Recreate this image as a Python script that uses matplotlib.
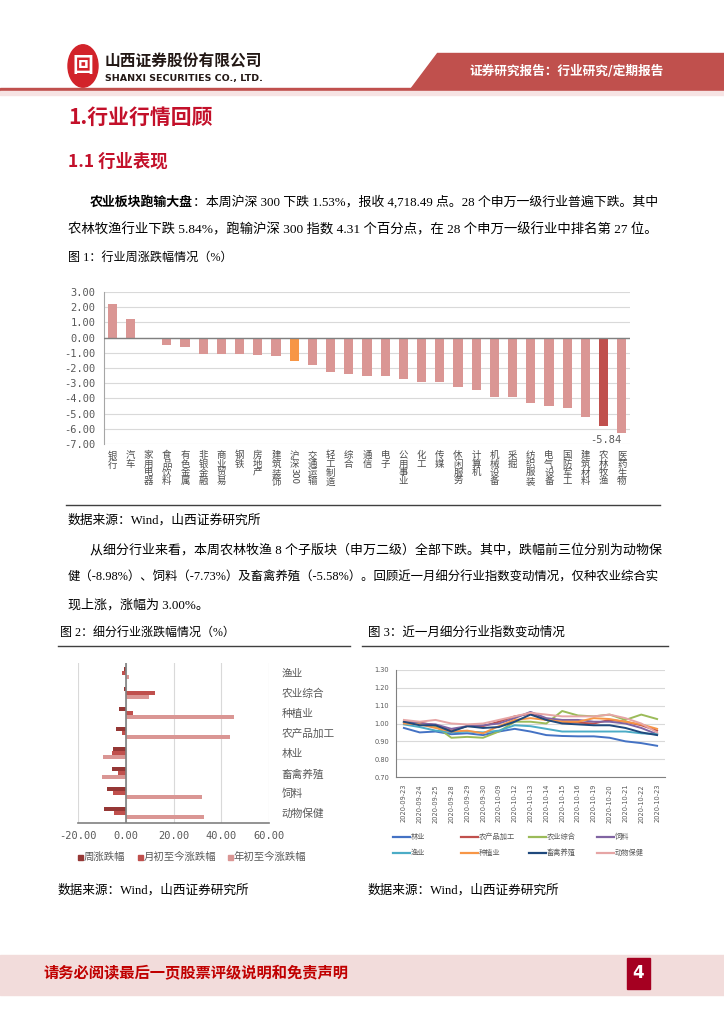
import matplotlib
matplotlib.use('Agg')
import matplotlib.pyplot as plt
from matplotlib.patches import Polygon, Rectangle, Circle
from matplotlib.lines import Line2D
import numpy as np

plt.rcParams['font.family'] = ['Noto Sans CJK SC', 'DejaVu Sans']
plt.rcParams['axes.unicode_minus'] = False

W, H = 724, 1024
RED = '#C3102A'
GRAY_TXT = '#595959'
GRID = '#D9D9D9'
BODY = ['Liberation Serif', 'Noto Sans CJK SC']
MONO = 'DejaVu Sans Mono'

# ---- 图1 数据 ----
industries = ['银行', '汽车', '家用电器', '食品饮料', '有色金属', '非银金融', '商业贸易', '钢铁',
              '房地产', '建筑装饰', '沪深300', '交通运输', '轻工制造', '综合', '通信', '电子',
              '公用事业', '化工', '传媒', '休闲服务', '计算机', '机械设备', '采掘', '纺织服装',
              '电气设备', '国防军工', '建筑材料', '农林牧渔', '医药生物']
industry_chg = [2.20, 1.24, -0.12, -0.46, -0.62, -1.06, -1.08, -1.10, -1.15, -1.21, -1.53, -1.78,
                -2.25, -2.42, -2.52, -2.54, -2.75, -2.92, -2.95, -3.23, -3.46, -3.88, -3.91, -4.32,
                -4.50, -4.63, -5.21, -5.84, -6.26]
y1_ticks = [3, 2, 1, 0, -1, -2, -3, -4, -5, -6, -7]

# ---- 图2 数据 ----
sub_names = ['渔业', '农业综合', '种植业', '农产品加工', '林业', '畜禽养殖', '饲料', '动物保健']
week_chg = [-0.8, -0.8, -2.9, -4.2, -5.45, -5.58, -7.73, -8.98]
month_chg = [-1.4, 12.2, 3.1, -1.7, -5.9, -3.4, -5.4, -5.1]
ytd_chg = [1.2, 9.9, 45.5, 43.8, -9.4, -10.1, 32.1, 32.9]
x2_ticks = [-20, 0, 20, 40, 60]

# ---- 图3 数据 ----
dates = ['2020-09-23', '2020-09-24', '2020-09-25', '2020-09-28', '2020-09-29', '2020-09-30',
         '2020-10-09', '2020-10-12', '2020-10-13', '2020-10-14', '2020-10-15', '2020-10-16',
         '2020-10-19', '2020-10-20', '2020-10-21', '2020-10-22', '2020-10-23']
linye = [0.975, 0.950, 0.955, 0.940, 0.945, 0.935, 0.955, 0.970, 0.955, 0.935, 0.930, 0.928,
         0.928, 0.920, 0.900, 0.890, 0.875]
nongchanpin = [1.010, 1.005, 0.990, 0.960, 0.985, 0.985, 1.010, 1.040, 1.055, 1.020, 1.010,
               1.005, 1.000, 1.020, 1.010, 0.990, 0.960]
nongyezonghe = [1.010, 1.000, 0.985, 0.920, 0.925, 0.920, 0.955, 1.010, 1.010, 1.000, 1.070,
                1.045, 1.040, 1.050, 1.020, 1.050, 1.025]
siliao = [1.010, 1.000, 0.995, 0.970, 0.985, 0.990, 1.000, 1.030, 1.065, 1.030, 1.020, 1.020,
          1.010, 1.010, 1.000, 0.975, 0.940]
yuye = [0.995, 0.980, 0.960, 0.950, 0.955, 0.950, 0.960, 0.990, 0.985, 0.970, 0.955, 0.955,
        0.955, 0.955, 0.955, 0.945, 0.940]
zhongzhi = [1.000, 0.995, 0.975, 0.955, 0.960, 0.945, 0.985, 1.020, 1.030, 1.020, 1.010, 1.010,
            1.030, 1.025, 1.010, 0.995, 0.970]
xuqin = [1.010, 0.990, 0.990, 0.955, 0.985, 0.975, 0.980, 1.010, 1.050, 1.020, 1.000, 0.995,
         0.990, 0.990, 0.975, 0.950, 0.935]
dongbao = [1.020, 1.010, 1.020, 1.000, 0.995, 1.000, 1.020, 1.040, 1.060, 1.050, 1.040, 1.040,
           1.040, 1.050, 1.030, 1.000, 0.950]
series3 = [('林业', linye, '#4472C4'), ('农产品加工', nongchanpin, '#C0504D'),
           ('农业综合', nongyezonghe, '#9BBB59'), ('饲料', siliao, '#8064A2'),
           ('渔业', yuye, '#4BACC6'), ('种植业', zhongzhi, '#F79646'),
           ('畜禽养殖', xuqin, '#1F497D'), ('动物保健', dongbao, '#E6A5A5')]

fig = plt.figure(figsize=(W / 100, H / 100), dpi=100)
renderer = fig.canvas.get_renderer()


def fxy(x, y):
    return x / W, 1 - y / H


def add_ax(l, t, r, b):
    return fig.add_axes([l / W, 1 - b / H, (r - l) / W, (b - t) / H])


def hline(x0, x1, y, color='#404040', lw=1.0):
    fig.add_artist(Line2D([x0 / W, x1 / W], [1 - y / H, 1 - y / H], color=color, lw=lw,
                          transform=fig.transFigure))


def txt(x, y, s, size, right=None, **kw):
    kw.setdefault('va', 'center')
    t = fig.text(x / W, 1 - y / H, s, fontsize=size, ha='left', **kw)
    if right is not None:
        w = t.get_window_extent(renderer).width
        t.set_fontsize(size * (right - x) / w)
    return t


# ---- 页眉 ----
fig.add_artist(Circle(fxy(83, 66), 15 / W, color='#D2232A', transform=fig.transFigure))
txt(72, 66, '回', 15, color='white', weight='bold')
txt(105, 62, '山西证券股份有限公司', 11, right=262, color='#231815', weight='bold')
txt(105, 78, 'SHANXI SECURITIES CO., LTD.', 7.5, right=262, color='#231815', weight='bold',
    family='DejaVu Sans')
band = Polygon([fxy(437, 53), fxy(724, 53), fxy(724, 89), fxy(410, 89)], closed=True,
               color='#C0504D', transform=fig.transFigure)
fig.add_artist(band)
txt(470, 71, '证券研究报告：行业研究/定期报告', 10, right=665, color='white', weight='bold')
fig.add_artist(Rectangle(fxy(0, 91), 1, 3 / H, color='#C0504D', transform=fig.transFigure))
fig.add_artist(Rectangle(fxy(0, 95), 1, 4 / H, color='#F6E3E3', transform=fig.transFigure))

# ---- 标题与正文 ----
txt(68, 117, '1.行业行情回顾', 15, color=RED, weight='bold')
txt(68, 162, '1.1 行业表现', 12.5, color=RED, weight='bold')

bold_part = '农业板块跑输大盘'
rest_part = '：本周沪深 300 下跌 1.53%，报收 4,718.49 点。28 个申万一级行业普遍下跌。其中'
base = 9.4
tb = fig.text(90 / W, 1 - 202 / H, bold_part, fontsize=base, weight='bold', family=BODY,
              va='center', color='black')
tr = fig.text(0, 1 - 202 / H, rest_part, fontsize=base, family=BODY, va='center', color='black')
w_all = tb.get_window_extent(renderer).width + tr.get_window_extent(renderer).width
scale = (658 - 90) / w_all
tb.set_fontsize(base * scale)
tr.set_fontsize(base * scale)
tr.set_x((90 + tb.get_window_extent(renderer).width) / W)
txt(68, 230, '农林牧渔行业下跌 5.84%，跑输沪深 300 指数 4.31 个百分点，在 28 个申万一级行业中排名第 27 位。',
    base, right=655, family=BODY)
txt(68, 258, '图 1：行业周涨跌幅情况（%）', 9, right=232, family=BODY)

# ---- 图1 ----
ax1 = add_ax(104, 292, 630, 444)
x1 = np.arange(len(industries))
colors1 = ['#DA9694'] * len(industries)
colors1[industries.index('沪深300')] = '#F79646'
colors1[industries.index('农林牧渔')] = '#C0504D'
ax1.bar(x1, industry_chg, width=0.5, color=colors1, zorder=3)
ax1.set_xlim(-0.45, len(industries) - 0.55)
ax1.set_ylim(-7, 3)
ax1.set_yticks(y1_ticks)
ax1.set_yticklabels([f'{v:.2f}' for v in y1_ticks], family=MONO, fontsize=7.5, color=GRAY_TXT)
ax1.yaxis.grid(True, color=GRID, lw=0.8, zorder=0)
ax1.axhline(0, color='#808080', lw=1.0, zorder=4)
for s in ['top', 'right', 'bottom']:
    ax1.spines[s].set_visible(False)
ax1.spines['left'].set_color('#A6A6A6')
ax1.tick_params(axis='y', length=0, pad=6)
labels1 = ['\n'.join(n) if n != '沪深300' else '沪\n深' for n in industries]
ax1.set_xticks(x1)
ax1.set_xticklabels(labels1, fontsize=6.8, color='#4D4D4D', linespacing=0.95, va='top')
ax1.tick_params(axis='x', length=0, pad=5)
ax1.annotate('300', xy=(industries.index('沪深300'), 0), xycoords=('data', 'axes fraction'),
             xytext=(0, -17.5), textcoords='offset points', rotation=-90, ha='center', va='top',
             fontsize=6.8, color='#4D4D4D')
k = industries.index('农林牧渔')
ax1.annotate(f'{industry_chg[k]:.2f}', xy=(k, industry_chg[k]), xytext=(1.5, -9.5),
             textcoords='offset points', ha='center', va='center', family=MONO, fontsize=7.5,
             color=GRAY_TXT)

hline(66, 660, 505, '#404040', 1.0)
txt(68, 520, '数据来源：Wind，山西证券研究所', 9, right=262, family=BODY)

txt(90, 550, '从细分行业来看，本周农林牧渔 8 个子版块（申万二级）全部下跌。其中，跌幅前三位分别为动物保',
    base, right=658, family=BODY)
txt(68, 578, '健（-8.98%）、饲料（-7.73%）及畜禽养殖（-5.58%）。回顾近一月细分行业指数变动情况，仅种农业综合实',
    base, right=658, family=BODY)
txt(68, 605, '现上涨，涨幅为 3.00%。', base, family=BODY)

txt(60, 633, '图 2：细分行业涨跌幅情况（%）', 9, right=235, family=BODY)
txt(368, 633, '图 3：近一月细分行业指数变动情况', 9, right=565, family=BODY)
hline(58, 350, 646, '#404040', 1.0)
hline(362, 668, 646, '#404040', 1.0)

# ---- 图2 ----
ax2 = add_ax(78, 663, 269, 823)
y2 = np.arange(len(sub_names))
c_week, c_month, c_ytd = '#953735', '#C0504D', '#DA9694'
ax2.barh(y2 - 0.22, week_chg, height=0.2, color=c_week, zorder=3)
ax2.barh(y2, month_chg, height=0.2, color=c_month, zorder=3)
ax2.barh(y2 + 0.22, ytd_chg, height=0.2, color=c_ytd, zorder=3)
ax2.set_ylim(len(sub_names) - 0.5, -0.5)
ax2.set_xlim(-20, 60)
ax2.set_xticks(x2_ticks)
ax2.set_xticklabels([f'{v:.2f}' for v in x2_ticks], family=MONO, fontsize=7.5, color=GRAY_TXT)
ax2.xaxis.grid(True, color=GRID, lw=0.8, zorder=0)
ax2.axvline(0, color='#808080', lw=1.2, zorder=4)
for s in ['top', 'right', 'left']:
    ax2.spines[s].set_visible(False)
ax2.spines['bottom'].set_color('#808080')
ax2.spines['bottom'].set_linewidth(1.2)
ax2.yaxis.tick_right()
ax2.set_yticks(y2)
ax2.set_yticklabels(sub_names, fontsize=7.7, color=GRAY_TXT)
ax2.tick_params(axis='y', length=0, pad=9)
ax2.tick_params(axis='x', length=0, pad=6)

leg2 = [('周涨跌幅', c_week, 78), ('月初至今涨跌幅', c_month, 138), ('年初至今涨跌幅', c_ytd, 228)]
for name, c, x0 in leg2:
    fig.add_artist(Rectangle(fxy(x0, 860), 5 / W, 5 / H, color=c, transform=fig.transFigure))
    txt(x0 + 6, 857, name, 7.5, color=GRAY_TXT)

# ---- 图3 ----
ax3 = add_ax(396, 670, 665, 777)
x3 = np.arange(len(dates))
for name, vals, c in series3:
    ax3.plot(x3, vals, color=c, lw=1.4, label=name)
ax3.set_xlim(-0.5, len(dates) - 0.5)
ax3.set_ylim(0.7, 1.3)
y3_ticks = np.round(np.arange(0.7, 1.31, 0.1), 2)
ax3.set_yticks(y3_ticks)
ax3.set_yticklabels([f'{v:.2f}' for v in y3_ticks], fontsize=4.8, color=GRAY_TXT,
                    family='DejaVu Sans')
ax3.set_xticks(x3)
ax3.set_xticklabels(dates, rotation=90, fontsize=4.8, color=GRAY_TXT, family='DejaVu Sans')
ax3.yaxis.grid(True, color=GRID, lw=0.8)
for s in ['top', 'right']:
    ax3.spines[s].set_visible(False)
ax3.spines['left'].set_color('#808080')
ax3.spines['bottom'].set_color('#808080')
ax3.tick_params(length=0, pad=5)

for i, (name, vals, c) in enumerate(series3):
    x0 = 393 + (i % 4) * 68
    yy = 837 + (i // 4) * 16
    fig.add_artist(Line2D([x0 / W, (x0 + 17) / W], [1 - yy / H, 1 - yy / H], color=c, lw=1.6,
                          transform=fig.transFigure))
    txt(x0 + 18, yy, name, 5.2, color=GRAY_TXT)

txt(58, 890, '数据来源：Wind，山西证券研究所', 9, right=250, family=BODY)
txt(368, 890, '数据来源：Wind，山西证券研究所', 9, right=560, family=BODY)

# ---- 页脚 ----
fig.add_artist(Rectangle(fxy(0, 995), 1, 40 / H, color='#F2DCDB', transform=fig.transFigure))
txt(43, 973, '请务必阅读最后一页股票评级说明和免责声明', 10.5, right=350, color='#C00000', weight='bold')
fig.add_artist(Rectangle(fxy(627, 989), 23 / W, 31 / H, color='#A50021', transform=fig.transFigure))
fig.text(638.5 / W, 1 - 973 / H, '4', fontsize=12, color='white', weight='bold', ha='center',
         va='center', family='DejaVu Sans')

fig.savefig('out.png', dpi=100)
